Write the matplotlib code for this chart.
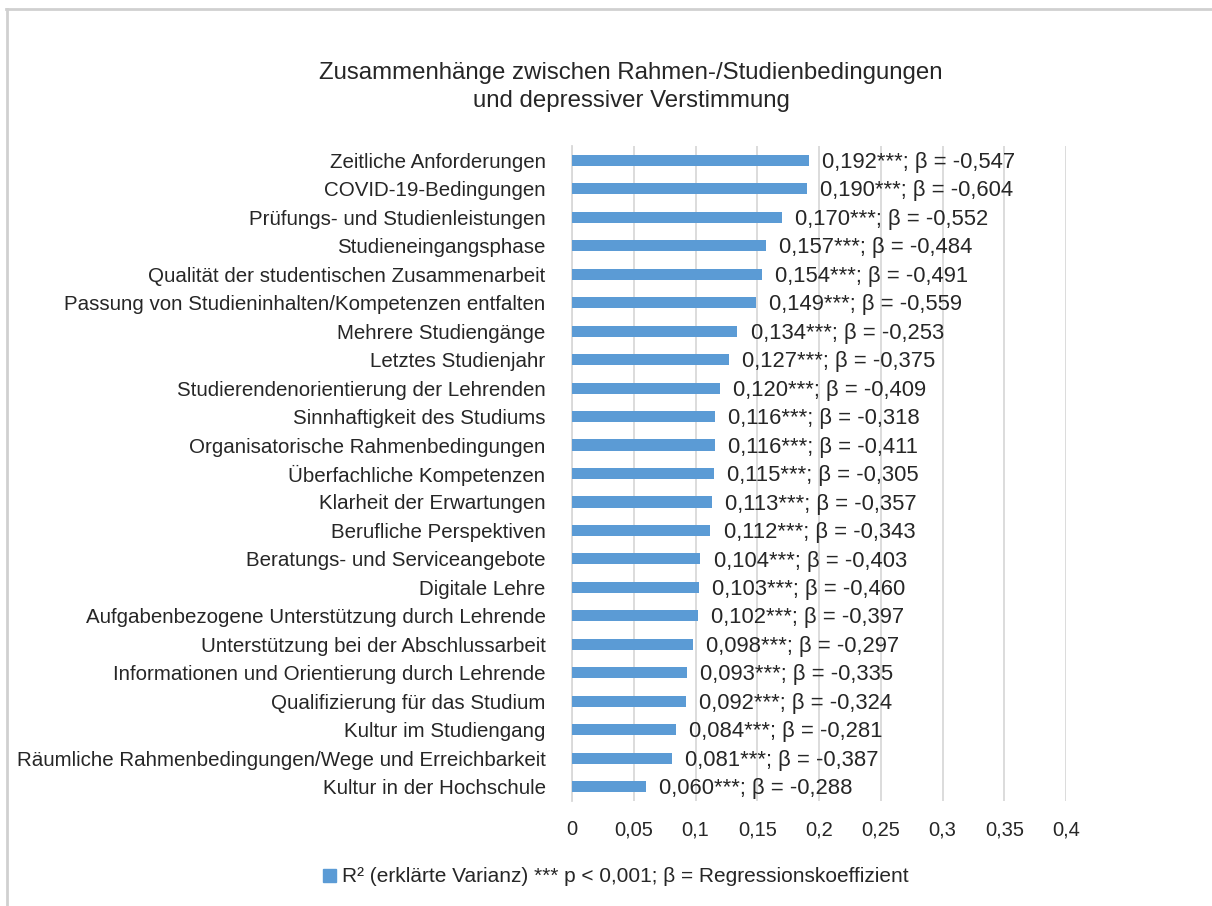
import matplotlib.pyplot as plt
from matplotlib.patches import Patch
from matplotlib.lines import Line2D

plt.rcParams['font.family'] = ['Liberation Sans', 'DejaVu Sans']

categories = [
    "Zeitliche Anforderungen",
    "COVID-19-Bedingungen",
    "Prüfungs- und Studienleistungen",
    "Studieneingangsphase",
    "Qualität der studentischen Zusammenarbeit",
    "Passung von Studieninhalten/Kompetenzen entfalten",
    "Mehrere Studiengänge",
    "Letztes Studienjahr",
    "Studierendenorientierung der Lehrenden",
    "Sinnhaftigkeit des Studiums",
    "Organisatorische Rahmenbedingungen",
    "Überfachliche Kompetenzen",
    "Klarheit der Erwartungen",
    "Berufliche Perspektiven",
    "Beratungs- und Serviceangebote",
    "Digitale Lehre",
    "Aufgabenbezogene Unterstützung durch Lehrende",
    "Unterstützung bei der Abschlussarbeit",
    "Informationen und Orientierung durch Lehrende",
    "Qualifizierung für das Studium",
    "Kultur im Studiengang",
    "Räumliche Rahmenbedingungen/Wege und Erreichbarkeit",
    "Kultur in der Hochschule",
]
r2 = [0.192, 0.190, 0.170, 0.157, 0.154, 0.149, 0.134, 0.127, 0.120, 0.116,
      0.116, 0.115, 0.113, 0.112, 0.104, 0.103, 0.102, 0.098, 0.093, 0.092,
      0.084, 0.081, 0.060]
beta = [-0.547, -0.604, -0.552, -0.484, -0.491, -0.559, -0.253, -0.375, -0.409,
        -0.318, -0.411, -0.305, -0.357, -0.343, -0.403, -0.460, -0.397, -0.297,
        -0.335, -0.324, -0.281, -0.387, -0.288]
xticks = [0, 0.05, 0.1, 0.15, 0.2, 0.25, 0.3, 0.35, 0.4]
xtick_labels = ["0", "0,05", "0,1", "0,15", "0,2", "0,25", "0,3", "0,35", "0,4"]

bar_color = "#5B9BD5"
text_color = "#262626"
grid_color = "#D9D9D9"


def de(v):
    return f"{v:.3f}".replace(".", ",")


fig = plt.figure(figsize=(12.12, 9.06), dpi=100)
W, H = 1212, 906
# axes placed in pixel coords: x 572..1066 (0..0.4), y 146..801
ax = fig.add_axes([572 / W, 1 - 801 / H, (1066 - 572) / W, (801 - 146) / H])

y = list(range(len(categories)))
ax.barh(y, r2, height=0.39, color=bar_color, zorder=3)
ax.set_ylim(len(categories) - 0.5, -0.5)
ax.set_xlim(0, 0.4)
ax.set_yticks(y)
ax.set_yticklabels(categories, fontsize=14.8, color=text_color)
ax.set_xticks(xticks)
ax.set_xticklabels(xtick_labels, fontsize=14.5, color=text_color)
ax.tick_params(axis='y', length=0, pad=19)
ax.tick_params(axis='x', length=0, pad=14)
ax.grid(axis='x', color=grid_color, linewidth=1.3, zorder=0)
for s in ["top", "right", "bottom"]:
    ax.spines[s].set_visible(False)
ax.spines["left"].set_color(grid_color)
ax.spines["left"].set_linewidth(1.3)

for yi, v, b in zip(y, r2, beta):
    ax.annotate(f"{de(v)}***; β = {de(b)}", (v, yi), xytext=(9.5, -1.5),
                textcoords="offset points", va="center", ha="left",
                fontsize=15.8, color=text_color, zorder=4)

fig.text(631 / W, 1 - 73 / H, "Zusammenhänge zwischen Rahmen-/Studienbedingungen",
         ha="center", va="center", fontsize=17.3, color=text_color)
fig.text(631 / W, 1 - 101 / H, "und depressiver Verstimmung",
         ha="center", va="center", fontsize=17.3, color=text_color)

leg = fig.legend([Patch(color=bar_color)],
                 ["R² (erklärte Varianz) *** p < 0,001; β = Regressionskoeffizient"],
                 loc="center", bbox_to_anchor=(616 / W, 1 - 877 / H),
                 frameon=False, fontsize=15, handlelength=0.6, handleheight=0.6,
                 handletextpad=0.3)
for t in leg.get_texts():
    t.set_color(text_color)

# chart frame (top and left edge visible)
fig.add_artist(Line2D([6 / W, 1], [1 - 9 / H, 1 - 9 / H], color="#D0D0D0", linewidth=2))
fig.add_artist(Line2D([7 / W, 7 / W], [0, 1 - 9 / H], color="#D0D0D0", linewidth=2))

fig.savefig("out.png", dpi=100)
